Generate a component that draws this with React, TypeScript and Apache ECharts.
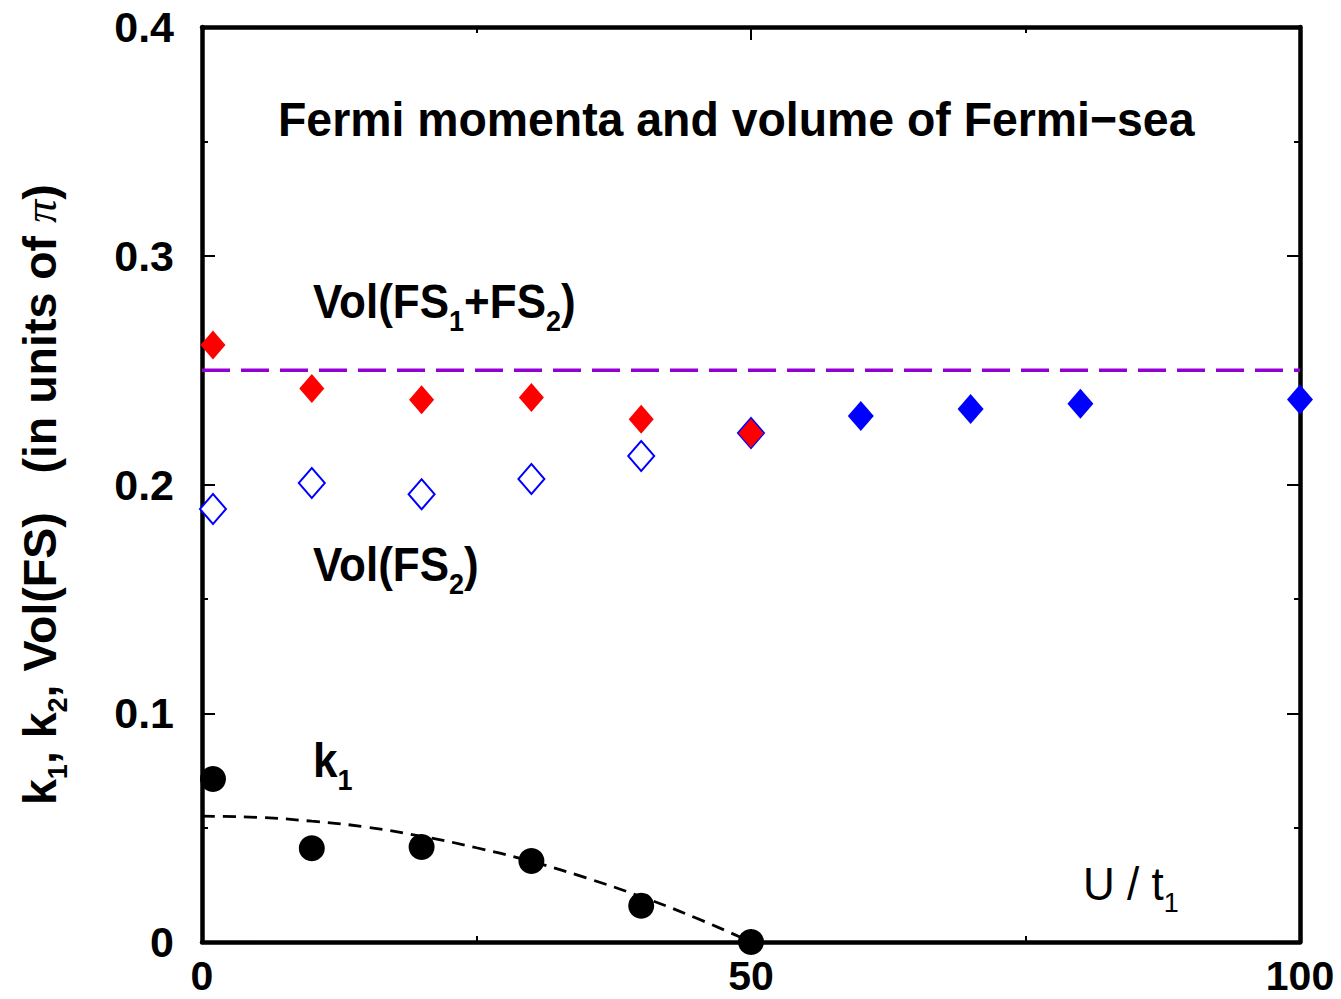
import React, { useEffect, useRef } from "react";
import * as echarts from "echarts";

// ---- data ----
const U_LOW = [1, 10, 20, 30, 40, 50];
const VOL_FS1_FS2 = [0.261, 0.242, 0.237, 0.238, 0.2285, 0.2224];
const VOL_FS2 = [0.1893, 0.2007, 0.1957, 0.2024, 0.2125, 0.2225];
const K1 = [0.0713, 0.041, 0.0415, 0.0354, 0.0159, 0];
const U_HIGH = [50, 60, 70, 80, 100];
const VOL_FS_HIGH = [0.2224, 0.2299, 0.233, 0.2353, 0.2372];
const FIT_U = [0, 5, 10, 15, 20, 25, 30, 35, 40, 45, 50];
const FIT_K1 = [0.055, 0.0545, 0.0528, 0.0502, 0.0462, 0.0412, 0.0352, 0.028, 0.0198, 0.0105, 0];
const HALF_U = [0, 100];
const HALF_VOL = [0.25, 0.25];
const X_TICKS = [0, 50, 100];
const Y_TICKS = [0, 0.1, 0.2, 0.3, 0.4];

const FONT = '"Liberation Sans", Arial, Helvetica, sans-serif';

let measureCtx: CanvasRenderingContext2D | null = null;
function measure(text: string, font: string): number {
  if (!measureCtx) measureCtx = document.createElement("canvas").getContext("2d");
  measureCtx!.font = font;
  return measureCtx!.measureText(text).width;
}

type Seg = { t: string; sub?: boolean; italic?: boolean; serif?: boolean; normal?: boolean };

function textRow(
  segs: Seg[],
  x: number,
  y: number,
  size: number,
  bold: boolean,
  rotation = 0,
  scaleY = 1,
  subScale = 0.62,
  subDrop = 0.4
) {
  let cx = 0;
  const children = segs.map((s) => {
    const fs = s.sub ? Math.round(size * subScale) : size;
    const weight = bold && !s.normal ? "bold" : "normal";
    const style = s.italic ? "italic" : "normal";
    const family = s.serif ? '"Liberation Serif", "DejaVu Serif", serif' : FONT;
    const font = `${style} ${weight} ${fs}px ${family}`;
    const w = measure(s.t, font);
    const el = {
      type: "text",
      x: cx,
      y: s.sub ? size * subDrop : 0,
      style: {
        text: s.t,
        fontSize: fs,
        fontWeight: weight,
        fontStyle: style,
        fontFamily: family,
        fill: "#000",
        align: "left",
        verticalAlign: "middle",
      },
    };
    cx += w;
    return el;
  });
  return { type: "group", x, y, rotation, scaleY, children };
}

export default function App() {
  const ref = useRef<HTMLDivElement>(null);
  useEffect(() => {
    if (!ref.current) return;
    const chart = echarts.init(ref.current, null, { renderer: "svg" });
    const tickStyle = { color: "#000", width: 2 };
    const axisLine = { show: true, onZero: false, lineStyle: { color: "#000", width: 4.5 } };
    const labelStyle = { color: "#000", fontSize: 43, fontWeight: "bold", fontFamily: FONT };
    const zip = (xs: number[], ys: number[]) => xs.map((x, i) => [x, ys[i]]);

    chart.setOption({
      animation: false,
      backgroundColor: "#fff",
      grid: { left: 202, top: 27, width: 1098, height: 915, containLabel: false },
      xAxis: [
        {
          type: "value",
          min: 0,
          max: 100,
          interval: 50,
          position: "bottom",
          axisLine,
          axisTick: { show: true, inside: true, length: 13, lineStyle: tickStyle },
          minorTick: { show: true, splitNumber: 2, length: 6, lineStyle: tickStyle },
          splitLine: { show: false },
          axisLabel: {
            ...labelStyle,
            fontSize: 41,
            lineHeight: 34,
            margin: 17,
            formatter: (v: number) => (X_TICKS.includes(v) ? String(v) : ""),
          },
        },
        {
          type: "value",
          min: 0,
          max: 100,
          interval: 50,
          position: "top",
          axisLine,
          axisTick: { show: true, inside: true, length: 13, lineStyle: tickStyle },
          minorTick: { show: true, splitNumber: 2, length: 6, lineStyle: tickStyle },
          splitLine: { show: false },
          axisLabel: { show: false },
        },
      ],
      yAxis: [
        {
          type: "value",
          min: 0,
          max: 0.4,
          interval: 0.1,
          position: "left",
          axisLine,
          axisTick: { show: true, inside: true, length: 13, lineStyle: tickStyle },
          minorTick: { show: true, splitNumber: 2, length: 6, lineStyle: tickStyle },
          splitLine: { show: false },
          axisLabel: {
            ...labelStyle,
            margin: 28,
            formatter: (v: number) => {
              const m = Y_TICKS.find((t) => Math.abs(t - v) < 1e-9);
              return m === undefined ? "" : String(m);
            },
          },
        },
        {
          type: "value",
          min: 0,
          max: 0.4,
          interval: 0.1,
          position: "right",
          axisLine,
          axisTick: { show: true, inside: true, length: 13, lineStyle: tickStyle },
          minorTick: { show: true, splitNumber: 2, length: 6, lineStyle: tickStyle },
          splitLine: { show: false },
          axisLabel: { show: false },
        },
      ],
      series: [
        {
          type: "line",
          data: zip(HALF_U, HALF_VOL),
          showSymbol: false,
          symbol: "none",
          lineStyle: { color: "#9400D3", width: 3.5, type: [28, 11] },
          z: 1,
        },
        {
          type: "line",
          data: zip(FIT_U, FIT_K1),
          smooth: true,
          showSymbol: false,
          symbol: "none",
          lineStyle: { color: "#000", width: 2.8, type: [13, 8] },
          z: 2,
        },
        {
          type: "scatter",
          data: zip(U_LOW, VOL_FS2),
          symbol: "diamond",
          symbolSize: [26, 30],
          itemStyle: { color: "#fff", borderColor: "#0000FF", borderWidth: 2, opacity: 1 },
          z: 3,
        },
        {
          type: "scatter",
          data: zip(U_HIGH, VOL_FS_HIGH),
          symbol: "diamond",
          symbolSize: [26, 30],
          itemStyle: { color: "#0000FF", opacity: 1 },
          z: 4,
        },
        {
          type: "scatter",
          data: zip(U_LOW, VOL_FS1_FS2),
          symbol: "diamond",
          symbolSize: [25, 29],
          itemStyle: { color: "#FF0000", opacity: 1 },
          z: 5,
        },
        {
          type: "scatter",
          data: zip(U_LOW, K1),
          symbol: "circle",
          symbolSize: 26,
          itemStyle: { color: "#000", opacity: 1 },
          z: 6,
        },
      ],
      graphic: [
        textRow([{ t: "Fermi momenta and volume of Fermi\u2212sea" }], 278, 119, 46.4, true, 0, 1.05),
        textRow(
          [{ t: "Vol(FS" }, { t: "1", sub: true }, { t: "+FS" }, { t: "2", sub: true }, { t: ")" }],
          313,
          302,
          44,
          true,
          0,
          1.08
        ),
        textRow([{ t: "Vol(FS" }, { t: "2", sub: true }, { t: ")" }], 313, 565, 44, true, 0, 1.08),
        textRow([{ t: "k" }, { t: "1", sub: true }], 313, 761, 44, true, 0, 1.08),
        textRow([{ t: "U / t" }, { t: "1", sub: true }], 1083, 884, 44, false, 0, 1.05),
        textRow(
          [
            { t: "k" },
            { t: "1", sub: true },
            { t: ", k" },
            { t: "2", sub: true },
            { t: ", Vol(FS)   (in units of " },
            { t: "\u03c0", italic: true, serif: true, normal: true },
            { t: ")" },
          ],
          40,
          805,
          46.5,
          true,
          Math.PI / 2,
          1,
          0.58,
          0.38
        ),
      ],
    });
    return () => chart.dispose();
  }, []);
  return (
    <div
      ref={ref}
      style={{ position: "fixed", left: 0, top: 0, width: 1341, height: 999, background: "#fff" }}
    />
  );
}
